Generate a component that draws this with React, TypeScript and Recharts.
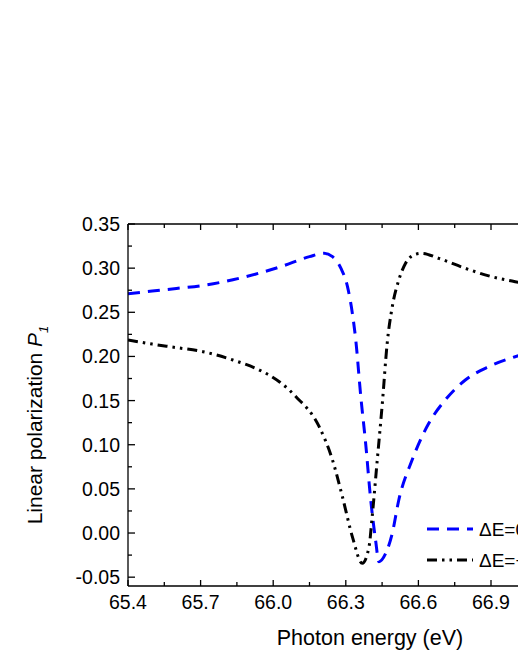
import React from 'react';
import { LineChart, Line, XAxis, YAxis, Legend } from 'recharts';

// blue dashed curve
const blueX = [65.4, 65.5, 65.6, 65.7, 65.86, 66.03, 66.15, 66.21, 66.245, 66.28, 66.307, 66.327, 66.341, 66.362, 66.382, 66.403, 66.423, 66.437, 66.465, 66.492, 66.519, 66.574, 66.643, 66.711, 66.794, 66.89, 67.0, 67.1, 67.2, 67.3, 67.4];
const blueY = [0.271, 0.274, 0.277, 0.28, 0.2885, 0.3016, 0.313, 0.3168, 0.313, 0.2998, 0.279, 0.249, 0.219, 0.1544, 0.1016, 0.0374, -0.008, -0.0325, -0.023, -0.0003, 0.0374, 0.0827, 0.1243, 0.1507, 0.1733, 0.1884, 0.1997, 0.207, 0.213, 0.218, 0.222];

// black dash-dot-dot curve
const blackX = [65.4, 65.5, 65.6, 65.71, 65.833, 65.943, 66.025, 66.094, 66.19, 66.245, 66.286, 66.327, 66.368, 66.396, 66.409, 66.43, 66.451, 66.471, 66.492, 66.519, 66.547, 66.588, 66.615, 66.684, 66.794, 66.903, 67.0, 67.1, 67.2, 67.3, 67.4];
const blackY = [0.2186, 0.214, 0.21, 0.2054, 0.196, 0.1846, 0.1714, 0.1544, 0.1204, 0.0827, 0.0411, -0.004, -0.0343, -0.0155, 0.0185, 0.0827, 0.147, 0.2149, 0.2563, 0.2866, 0.3055, 0.3157, 0.3168, 0.3111, 0.2998, 0.2903, 0.2847, 0.28, 0.276, 0.273, 0.27];

const xTicks = [65.4, 65.55, 65.7, 65.85, 66.0, 66.15, 66.3, 66.45, 66.6, 66.75, 66.9, 67.05, 67.2, 67.35];
const yTicks = [-0.05, -0.025, 0, 0.025, 0.05, 0.075, 0.1, 0.125, 0.15, 0.175, 0.2, 0.225, 0.25, 0.275, 0.3, 0.325, 0.35];

const legendNames = ['ΔE=0.1 eV', 'ΔE=−0.1 eV'];

const blueData = blueX.map((x, i) => ({ x, y: blueY[i] }));
const blackData = blackX.map((x, i) => ({ x, y: blackY[i] }));

const FONT = 'Arial, "Liberation Sans", sans-serif';

const isMajor = (v: number, start: number, step: number) => {
    const k = (v - start) / step;
    return Math.abs(k - Math.round(k)) < 1e-6;
};

const BottomTick = (props: any) => {
    const { x, y, payload } = props;
    const major = isMajor(payload.value, 65.4, 0.3);
    return (
        <g>
            <line x1={x} x2={x} y1={y} y2={y - (major ? 6 : 4)} stroke="#000" strokeWidth={1.3} />
            {major && (
                <text x={x} y={y + 23} textAnchor="middle" fontSize={19.5} fontFamily={FONT} fill="#000">
                    {payload.value.toFixed(1)}
                </text>
            )}
        </g>
    );
};

const TopTick = (props: any) => {
    const { x, y, payload } = props;
    const major = isMajor(payload.value, 65.4, 0.3);
    return <line x1={x} x2={x} y1={y} y2={y + (major ? 6 : 4)} stroke="#000" strokeWidth={1.3} />;
};

const LeftTick = (props: any) => {
    const { x, y, payload } = props;
    const major = isMajor(payload.value, -0.05, 0.05);
    return (
        <g>
            <line x1={x} x2={x + (major ? 7 : 4)} y1={y} y2={y} stroke="#000" strokeWidth={1.3} />
            {major && (
                <text x={x - 8} y={y + 7} textAnchor="end" fontSize={19.5} fontFamily={FONT} fill="#000">
                    {payload.value.toFixed(2)}
                </text>
            )}
        </g>
    );
};

const LegendBox = () => (
    <svg width={200} height={60} style={{ display: 'block' }}>
        <line x1={0} x2={46} y1={8} y2={8} stroke="#0000ff" strokeWidth={3} strokeDasharray="12 8" />
        <text x={52} y={15} fontSize={19} fontFamily={FONT} fill="#000">{legendNames[0]}</text>
        <line x1={0} x2={46} y1={39} y2={39} stroke="#000" strokeWidth={3} strokeDasharray="10 5 2.5 5 2.5 5" />
        <text x={52} y={46} fontSize={19} fontFamily={FONT} fill="#000">{legendNames[1]}</text>
    </svg>
);

export default function App() {
    return (
        <div style={{ position: 'absolute', left: 0, top: 0, width: 518, height: 670, overflow: 'hidden', background: '#fff' }}>
            <LineChart width={680} height={670} margin={{ top: 214, right: 68, left: 68, bottom: 54 }}>
                <XAxis
                    dataKey="x"
                    type="number"
                    domain={[65.4, 67.4]}
                    ticks={xTicks}
                    interval={0}
                    allowDataOverflow
                    height={30}
                    tickSize={0}
                    tickMargin={0}
                    tickLine={false}
                    axisLine={{ stroke: '#000', strokeWidth: 1.3 }}
                    tick={<BottomTick />}
                    label={{
                        content: () => (
                            <text x={370} y={645} textAnchor="middle" fontSize={21.5} fontFamily={FONT} fill="#000">
                                Photon energy (eV)
                            </text>
                        )
                    }}
                />
                <XAxis
                    xAxisId="top"
                    orientation="top"
                    dataKey="x"
                    type="number"
                    domain={[65.4, 67.4]}
                    ticks={xTicks}
                    interval={0}
                    allowDataOverflow
                    height={10}
                    tickSize={0}
                    tickMargin={0}
                    tickLine={false}
                    axisLine={{ stroke: '#000', strokeWidth: 1.3 }}
                    tick={<TopTick />}
                />
                <YAxis
                    type="number"
                    domain={[-0.06, 0.35]}
                    ticks={yTicks}
                    interval={0}
                    allowDataOverflow
                    width={60}
                    tickSize={0}
                    tickMargin={0}
                    tickLine={false}
                    axisLine={{ stroke: '#000', strokeWidth: 1.3 }}
                    tick={<LeftTick />}
                    label={{
                        content: () => (
                            <text transform="translate(42,425) rotate(-90)" textAnchor="middle" fontSize={21} fontFamily={FONT} fill="#000">
                                Linear polarization <tspan fontStyle="italic">P</tspan>
                                <tspan fontSize={13} fontStyle="italic" dy={6}>1</tspan>
                            </text>
                        )
                    }}
                />
                <Legend
                    layout="horizontal"
                    verticalAlign="middle"
                    align="center"
                    content={() => <LegendBox />}
                    wrapperStyle={{ position: 'absolute', left: 427, top: 521, width: 200 }}
                />
                <Line
                    data={blueData}
                    dataKey="y"
                    type="monotone"
                    stroke="#0000ff"
                    strokeWidth={3}
                    strokeDasharray="12 8"
                    dot={false}
                    isAnimationActive={false}
                    legendType="none"
                />
                <Line
                    data={blackData}
                    dataKey="y"
                    type="monotone"
                    stroke="#000"
                    strokeWidth={3}
                    strokeDasharray="10 5 2.5 5 2.5 5"
                    dot={false}
                    isAnimationActive={false}
                    legendType="none"
                />
            </LineChart>
        </div>
    );
}
